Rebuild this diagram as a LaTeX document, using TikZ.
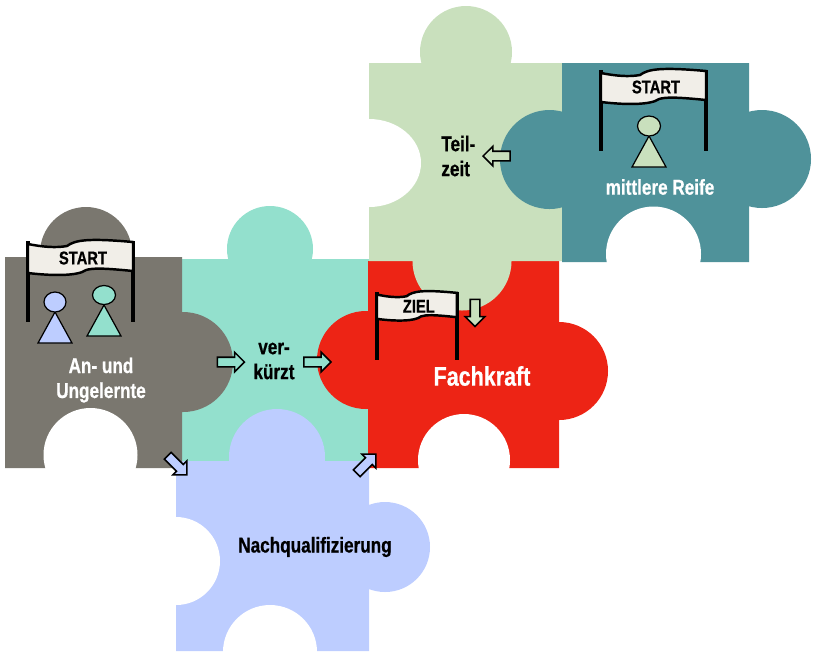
\documentclass[tikz,border=0pt]{standalone}
\usepackage{fontspec}
\setmainfont{Liberation Sans}[FakeStretch=0.8, BoldFeatures={FakeBold=0.6}]
\usetikzlibrary{shapes.arrows}
\definecolor{pzgrey}   {RGB}{122,119,111}
\definecolor{pzmint}   {RGB}{147,224,205}
\definecolor{pzblue}   {RGB}{189,205,255}
\definecolor{pzred}    {RGB}{237,36,21}
\definecolor{pzsage}   {RGB}{201,224,189}
\definecolor{pzpetrol} {RGB}{79,146,154}
\definecolor{pzbanner} {RGB}{241,238,232}
\tikzset{label light/.style={
    text=white, align=center, inner sep=0pt,
    font=\bfseries\fontsize{12.2}{14.2}\selectfont
}}
\tikzset{label dark/.style={
    label light, text=black
}}
\tikzset{flag text/.style={
    text=black, inner sep=0pt,
    font=\bfseries\fontsize{10.5}{12}\selectfont
}}
\tikzset{block arrow/.style={
    shape=single arrow, draw=black, line width=0.9pt,
    inner xsep=0pt, inner ysep=0.08cm, outer sep=0pt,
    minimum height=0.54cm,
    single arrow head extend=0.1cm
}}
\tikzset{pawn line/.style={
    draw=black, line width=0.7pt
}}
\newcommand{\flagbanner}[6]{
    \begin{scope}[shift={(#1,#2)}, xscale=#3, yscale=#4]
        \draw [line width=2.3pt] (0,0) -- (0,81);
        \draw [line width=2.3pt] (105,0) -- (105,81);
        \draw [fill=pzbanner, line width=1.4pt]
            (0,3) .. controls (15,6) and (28,7) .. (39,5)
            .. controls (47,-1) and (60,-3) .. (105,1)
            -- (105,30) .. controls (75,27) and (65,27) .. (58,29)
            .. controls (50,35) and (25,35) .. (0,32) -- cycle;
        \node (#5) [flag text] at(55,17) {#6};
    \end{scope}
}
\newcommand{\pawn}[5]{
    \draw [pawn line, fill=#5] (#1-17,#2+41) -- (#1,#2+10) -- (#1+17,#2+41) -- cycle;
    \draw [pawn line, fill=#5] (#1,#2) ellipse (#3 and #4);
}
\begin{document}
\begin{tikzpicture}[x=0.02cm, y=-0.02cm]
    \useasboundingbox (0,0) rectangle (813,654);

    % pieces
    \fill [pzmint] (182,461) rectangle (374,259) (270,249) circle (43);
    \fill [pzblue] (176,651) rectangle (369,461) (277,457) circle (48) (385,547) circle (45);
    \fill [white]  (176,561) circle (44) (270,652) circle (47);
    \fill [pzgrey] (5,468) rectangle (182,257) (86,253) circle (46) (183,362) circle (50);
    \fill [white]  (90.5,455) circle (47);
    \fill [pzred]  (368,468) rectangle (559,261) (366,360) circle (49) (559,371) circle (49);
    \fill [white]  (464,460) circle (46);
    \fill [pzsage] (369,261) rectangle (562,63) (466,52) circle (46) (462,261) circle (49.5);
    \fill [white]  (369,163) ellipse (52 and 44);
    \fill [pzpetrol] (562,262) rectangle (749,63) (549.5,159.5) circle (49.5) (762,159) circle (49);
    \fill [white]  (653.5,254) circle (47.5);

    % labels
    \node (ungelernt)  [label light] at(101,380) {An- und\\Ungelernte};
    \node (verkuerzt)  [label dark]  at(274,361) {ver-\\kürzt};
    \node (teilzeit)   [label dark, align=left, anchor=west] at(441,156) {Teil-\\zeit};
    \node (reife)      [label light] at(660,187) {mittlere Reife};
    \node (fachkraft)  [label light, font=\bfseries\fontsize{15.3}{18}\selectfont] at(482,376) {Fachkraft};
    \node (nachqual)   [label dark]  at(315,547) {Nachqualifizierung};

    % flags and figures
    \flagbanner{28}{241}{1}{1}{startA}{START}
    \flagbanner{601}{70}{1}{1}{startB}{START}
    \flagbanner{377}{292}{0.76}{0.84}{ziel}{ZIEL}
    \pawn{55}{302}{11}{10}{pzblue}
    \pawn{104}{295}{11.5}{9.5}{pzmint}
    \pawn{649}{126}{11.5}{10}{pzsage}

    % arrows
    \node (greymint)  [block arrow, fill=pzmint] at(228.5,362) {};
    \node (mintred)   [block arrow, fill=pzmint] at(315,362) {};
    \node (greyblue)  [block arrow, fill=pzblue, rotate=-45] at(175.6,463.6) {};
    \node (bluered)   [block arrow, fill=pzblue, rotate=45]  at(364.6,465.4) {};
    \node (petrolsage) [block arrow, fill=pzsage, rotate=180] at(499,156) {};
    \node (sagered)   [block arrow, fill=pzsage, rotate=-90] at(475,310.5) {};
\end{tikzpicture}
\end{document}
